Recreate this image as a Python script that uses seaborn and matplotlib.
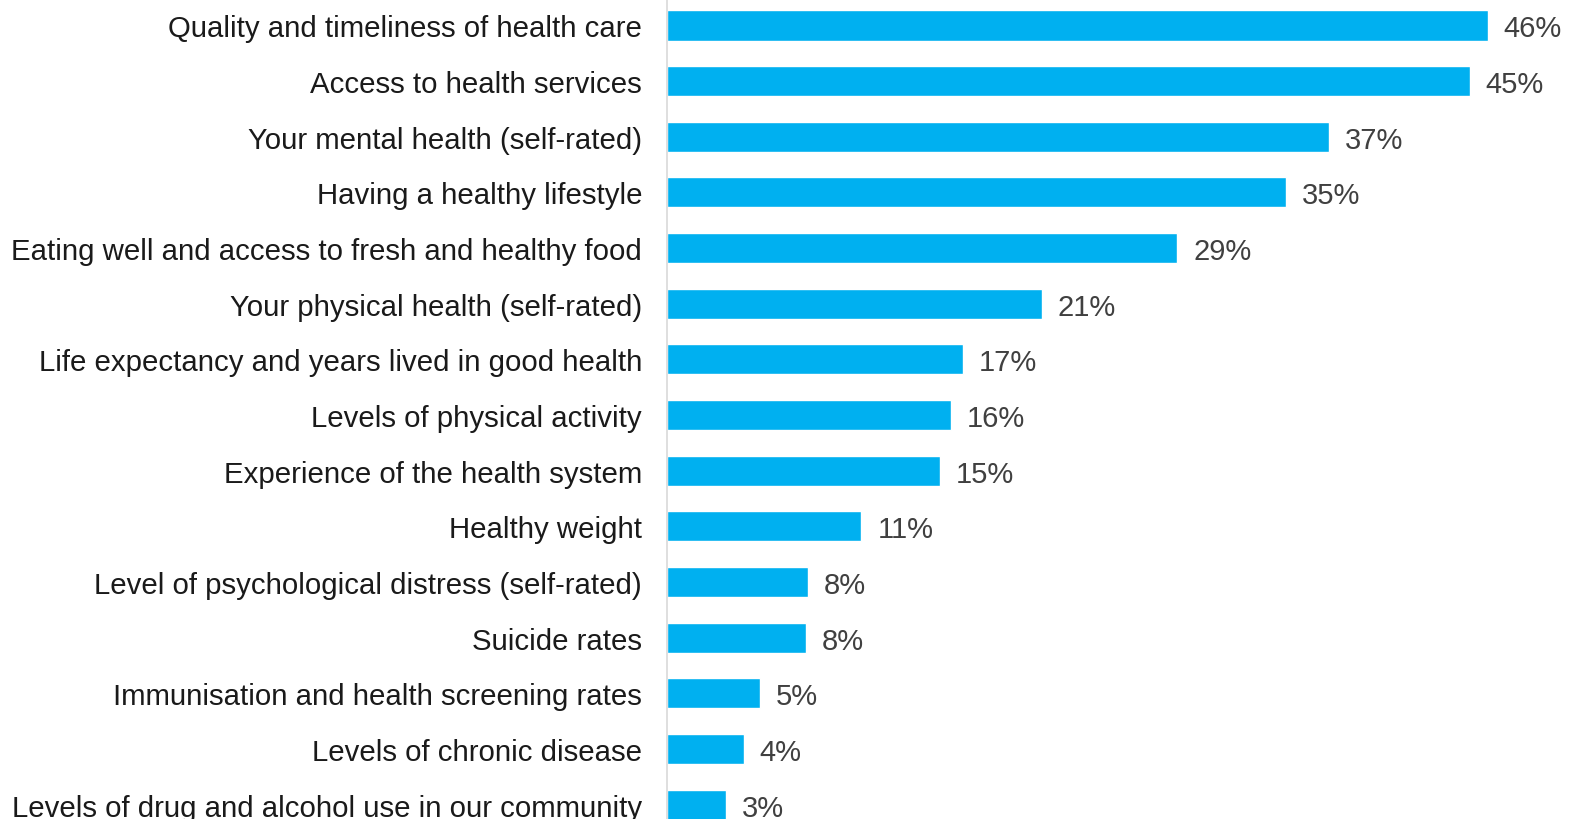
import matplotlib
matplotlib.use('Agg')
import matplotlib.pyplot as plt
import seaborn as sns
import pandas as pd

categories = [
    'Quality and timeliness of health care',
    'Access to health services',
    'Your mental health (self-rated)',
    'Having a healthy lifestyle',
    'Eating well and access to fresh and healthy food',
    'Your physical health (self-rated)',
    'Life expectancy and years lived in good health',
    'Levels of physical activity',
    'Experience of the health system',
    'Healthy weight',
    'Level of psychological distress (self-rated)',
    'Suicide rates',
    'Immunisation and health screening rates',
    'Levels of chronic disease',
    'Levels of drug and alcohol use in our community',
]
# bar lengths (%)
values = [46.0, 45.0, 37.1, 34.7, 28.6, 21.0, 16.6, 15.9, 15.3, 10.9, 7.9, 7.8, 5.2, 4.3, 3.3]
labels = ['46%', '45%', '37%', '35%', '29%', '21%', '17%', '16%', '15%', '11%',
          '8%', '8%', '5%', '4%', '3%']

df = pd.DataFrame({'category': categories, 'value': values})

sns.set_style('white')
plt.rcParams['font.family'] = ['Liberation Sans', 'DejaVu Sans']

fig = plt.figure(figsize=(15.75, 8.2), dpi=100)
ax = fig.add_axes([0.4235, 0.0, 0.5765, 1.0])

sns.barplot(data=df, x='value', y='category', orient='h', color='#00B0F0',
            saturation=1, width=0.54, ax=ax)

for i, (v, lab) in enumerate(zip(values, labels)):
    ax.text(v + 0.9, i, lab, va='center_baseline', ha='left', fontsize=21, color='#404040')

ax.set_xlim(0, 50.9)
ax.set_ylim(14.26, -0.476)
ax.set_xlabel('')
ax.set_ylabel('')
ax.set_xticks([])
ax.tick_params(axis='y', length=0, pad=18, labelsize=21.2, labelcolor='#1a1a1a')
for s in ['top', 'right', 'bottom']:
    ax.spines[s].set_visible(False)
ax.spines['left'].set_color('#d9d9d9')
ax.spines['left'].set_linewidth(1.2)

fig.savefig('out.png', dpi=100)
